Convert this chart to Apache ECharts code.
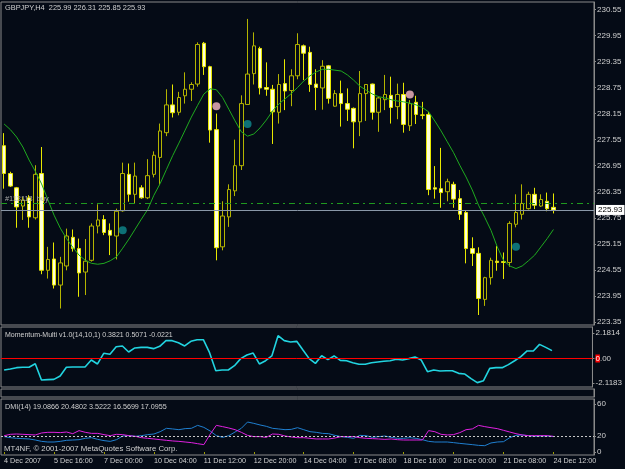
<!DOCTYPE html>
<html>
<head>
<meta charset="utf-8">
<script src="https://cdn.jsdelivr.net/npm/echarts@6/dist/echarts.min.js"></script>
<style>
  html, body { margin: 0; padding: 0; background: #050b16; }
  #main { width: 625px; height: 469px; }
</style>
</head>
<body>
<div id="main"></div>
<script>
// GBPJPY H4 bars: [open, high, low, close]
const candles = [
  [227.41,227.70,226.42,226.77],[226.77,226.81,226.46,226.48],[226.44,226.46,225.52,226.00],
  [226.02,226.23,225.70,226.16],[226.21,226.27,225.52,225.77],[225.75,226.96,225.71,226.75],
  [226.77,227.38,224.45,224.54],[224.54,225.08,224.35,224.79],[224.80,225.18,224.12,224.20],
  [224.20,224.85,223.66,224.71],[224.64,225.50,224.54,225.33],[225.30,225.48,224.97,225.04],
  [225.04,225.27,223.93,224.48],[224.50,225.26,223.97,224.75],[224.77,225.62,224.74,225.56],
  [225.56,226.06,225.39,225.70],[225.71,225.81,225.35,225.41],[225.46,225.62,224.89,225.35],
  [225.33,225.96,224.79,225.90],[225.91,227.02,225.89,226.77],[226.75,227.00,226.12,226.29],
  [226.29,227.02,226.08,226.71],[226.44,226.50,226.19,226.21],[226.21,227.10,226.18,226.72],
  [226.75,227.28,226.68,227.19],[227.14,227.92,226.50,227.75],[227.71,228.71,227.63,228.35],
  [228.35,228.82,228.06,228.17],[228.18,228.65,228.11,228.52],[228.56,229.10,228.38,228.71],
  [228.71,228.87,228.44,228.82],[228.83,229.79,228.77,229.74],[229.77,229.80,229.04,229.23],
  [229.23,229.25,227.48,227.77],[227.78,228.15,224.77,225.06],[225.08,226.13,225.00,225.79],
  [225.77,226.52,225.54,226.40],[226.37,227.55,226.25,226.95],[226.95,228.57,226.85,228.38],
  [228.36,230.33,228.36,229.06],[229.07,230.02,228.82,229.71],[229.65,229.69,228.59,228.74],
  [228.75,229.33,228.56,228.71],[228.71,228.81,227.45,228.19],[228.18,229.06,227.92,228.82],
  [228.84,229.40,228.23,228.67],[228.68,229.17,228.32,229.02],[229.02,230.00,228.94,229.74],
  [229.71,229.74,228.92,229.54],[229.56,229.69,228.65,228.82],[228.83,229.17,228.23,228.75],
  [228.74,229.38,228.24,229.24],[229.25,229.27,228.38,228.50],[228.32,228.69,228.31,228.61],
  [228.61,228.91,227.85,228.38],[228.38,228.73,227.98,228.25],[228.27,228.29,227.35,227.96],
  [227.96,229.13,227.63,228.61],[228.61,228.82,227.98,228.82],[228.83,228.84,228.01,228.18],
  [228.18,228.54,227.73,228.51],[228.47,229.04,228.23,228.59],[228.57,229.00,227.92,228.29],
  [228.31,228.84,228.02,228.59],[228.59,228.86,227.71,227.90],[227.87,228.46,227.75,228.38],
  [228.41,228.56,227.91,228.13],[228.12,228.42,228.02,228.11],[228.13,228.19,226.27,226.40],
  [226.44,226.94,226.19,226.41],[226.42,227.36,225.98,226.33],[226.35,226.65,226.13,226.58],
  [226.52,226.58,225.98,226.18],[226.19,226.39,225.70,225.83],[225.87,225.91,224.70,225.04],
  [225.04,225.30,224.64,224.93],[224.93,225.07,223.51,223.89],[223.87,224.39,223.72,224.37],
  [224.37,224.83,224.21,224.77],[224.75,225.10,224.53,224.72],[224.74,224.95,224.34,224.72],
  [224.72,225.67,224.62,225.62],[225.60,226.29,225.53,225.87],[225.83,226.52,225.71,226.08],
  [225.96,226.35,225.94,226.29],[226.29,226.44,225.95,226.04],[226.02,226.29,226.00,226.17],
  [226.13,226.33,225.90,225.96],[225.99,226.31,225.85,225.93]
]

// green moving average
const maLine = [
  227.91,227.78,227.61,227.38,227.08,226.82,226.53,226.17,225.81,225.51,
  225.27,225.07,224.89,224.77,224.70,224.68,224.70,224.76,224.85,225.05,
  225.26,225.49,225.72,225.94,226.27,226.54,226.86,227.18,227.47,227.77,
  228.07,228.34,228.60,228.72,228.70,228.52,228.25,227.98,227.73,227.63,
  227.68,227.82,228.00,228.21,228.37,228.49,228.61,228.75,228.90,229.02,
  229.11,229.17,229.17,229.15,229.13,229.04,228.92,228.78,228.69,228.60,
  228.54,228.51,228.47,228.44,228.42,228.39,228.35,228.29,228.19,227.98,
  227.75,227.50,227.25,226.96,226.69,226.39,226.04,225.76,225.46,225.08,
  224.77,224.64,224.58,224.64,224.76,224.89,225.08,225.27,225.48
]

// signal dots: [bar index, price]
const sellDots = [[34, 228.32], [65, 228.59]]
const buyDots = [[19, 225.46], [39, 227.91], [82, 225.08]]

const orderPrice = 226.09
const lastPrice = 225.93
const priceTicks = [230.55, 229.95, 229.35, 228.75, 228.15, 227.55, 226.95, 226.35, 225.75, 225.15, 224.55, 223.95, 223.35]

const momentum = [
  -0.99,-0.91,-0.79,-0.76,-0.76,-0.45,-1.85,-1.82,-1.80,-1.51,
  -0.76,-0.73,-0.73,-0.73,-0.13,-0.47,0.45,0.36,1.02,1.08,
  0.56,0.91,0.96,0.96,0.85,1.05,1.54,1.54,1.36,1.08,
  1.48,1.62,1.62,0.50,-1.05,-0.99,-0.99,-0.62,-0.01,0.30,
  0.47,-0.47,-0.19,0.22,1.97,1.54,1.42,1.48,0.73,-0.01,
  -0.42,0.24,-0.10,0.22,-0.16,-0.19,-0.36,-0.50,-0.50,-0.36,
  -0.30,-0.24,-0.19,-0.07,-0.13,-0.01,0.13,-0.13,-1.14,-0.99,
  -1.08,-1.05,-1.05,-1.28,-1.34,-1.74,-2.08,-1.91,-0.85,-0.79,
  -0.79,-0.53,-0.19,0.16,0.65,0.65,1.22,0.96,0.68
]
const momentumTicks = [2.1814, 0, -2.1183]

const dmiBlue = [
  19.2,17.9,17.1,16.7,16.3,15.0,13.3,12.5,12.5,13.3,
  14.6,15.0,15.4,17.1,17.9,15.8,14.2,13.3,15.4,20.0,
  20.4,19.6,20.4,21.7,22.5,25.4,29.6,28.8,27.9,29.2,
  29.6,33.3,30.8,26.3,20.4,18.3,20.4,25.0,29.6,37.5,
  35.8,33.8,32.1,29.6,28.8,27.9,28.3,30.4,27.9,25.4,
  24.6,23.3,22.9,20.8,19.2,18.3,17.1,20.8,20.4,18.3,
  19.2,20.0,18.3,17.1,17.1,17.9,17.1,15.4,13.3,12.5,
  12.5,12.5,11.7,10.8,10.0,9.2,8.3,7.9,11.3,12.5,
  12.9,17.9,20.8,21.3,20.4,19.6,20.0,20.0,19.2
]
const dmiMagenta = [
  20.4,22.1,22.5,22.1,21.7,21.3,23.8,24.6,24.6,24.2,
  25.0,22.9,26.7,24.6,23.3,23.3,21.7,20.4,22.1,21.7,
  20.4,19.6,17.9,17.1,16.3,15.4,14.6,13.8,13.3,12.5,
  11.7,10.4,9.2,22.1,33.3,31.7,30.0,27.9,24.6,20.8,
  19.2,19.2,18.3,22.5,22.1,20.0,18.8,17.9,17.9,17.1,
  16.3,16.3,16.3,17.5,19.2,19.2,19.2,17.9,17.1,16.7,
  16.3,15.8,16.3,15.4,15.0,15.0,15.0,15.0,26.7,25.4,
  22.1,21.3,21.7,24.2,27.9,28.8,33.3,31.7,30.4,29.2,
  27.1,25.0,22.9,21.3,20.4,20.4,20.4,20.4,19.6
]
const dmiTicks = [60, 20, 0]

// time labels, one every 8 bars
const timeLabels = ['4 Dec 2007', '5 Dec 16:00', '7 Dec 00:00', '10 Dec 04:00', '11 Dec 12:00', '12 Dec 20:00',
  '14 Dec 04:00', '17 Dec 08:00', '18 Dec 16:00', '20 Dec 00:00', '21 Dec 08:00', '24 Dec 12:00']

const slots = 95  // bars plus empty shift on the right
const categories = []
for (let i = 0; i < slots; i++) categories.push(String(i))

const bg = '#050b16'
const frame = '#8a8a8a'
const txt = '#d0d0d0'
const font = 'Liberation Sans'

let chart = echarts.init(document.getElementById('main'))

function xAxisFor(gridIndex, showLabels) {
  return {
    type: 'category', gridIndex: gridIndex, data: categories, boundaryGap: true,
    axisLine: {show: false},
    axisTick: {show: showLabels, interval: 7, alignWithLabel: true, length: 2, lineStyle: {color: '#a0a000'}},
    axisLabel: {
      show: showLabels, interval: 7, align: 'left', margin: 3, color: txt, fontSize: 7.2, fontFamily: font,
      formatter: (v, idx) => timeLabels[idx / 8] || ''
    },
    splitLine: {show: false}
  }
}

function yAxisFor(gridIndex, min, max, ticks, fmt) {
  return {
    type: 'value', gridIndex: gridIndex, position: 'right', min: min, max: max,
    axisLine: {show: true, lineStyle: {color: frame}},
    axisTick: {show: ticks.length > 0, customValues: ticks, length: 2, lineStyle: {color: frame}},
    axisLabel: {
      show: ticks.length > 0, customValues: ticks, margin: 3, color: txt, fontSize: 8, fontFamily: font,
      formatter: fmt,
      rich: {z: {backgroundColor: '#ff0000', color: '#ffffff', fontSize: 8, fontFamily: font}}
    },
    splitLine: {show: false}
  }
}

const gridStyle = {show: true, borderColor: frame, borderWidth: 1, backgroundColor: bg}

function caption(text, left, top, size) {
  return {text: text, left: left, top: top, padding: 0,
    textStyle: {color: txt, fontSize: size, fontWeight: 'normal', fontFamily: font}}
}

let option = {
  backgroundColor: bg,
  animation: false,
  title: [
    caption('GBPJPY,H4  225.99 226.31 225.85 225.93', 5, 4, 7.4),
    caption('Momentum-Multi v1.0(14,10,1) 0.3821 0.5071 -0.0221', 5, 332, 7),
    caption('DMI(14) 19.0866 20.4802 3.5222 16.5699 17.0955', 5, 404, 7.2),
    caption('MT4NF, © 2001-2007 MetaQuotes Software Corp.', 4, 445, 7.8)
  ],
  grid: [
    Object.assign({left: 1, top: 2, width: 593, height: 323}, gridStyle),
    Object.assign({left: 1, top: 327, width: 593, height: 60}, gridStyle),
    Object.assign({left: 1, top: 389, width: 593, height: 8}, gridStyle),
    Object.assign({left: 1, top: 399, width: 593, height: 56}, gridStyle)
  ],
  xAxis: [xAxisFor(0, false), xAxisFor(1, false), xAxisFor(2, false), xAxisFor(3, true)],
  yAxis: [
    yAxisFor(0, 223.28, 230.72, priceTicks, v => v.toFixed(2)),
    yAxisFor(1, -2.457, 2.716, momentumTicks, v => v === 0 ? '{z|0}.00' : v.toFixed(4)),
    yAxisFor(2, 0, 1, [], v => ''),
    yAxisFor(3, -3.75, 66.25, dmiTicks, v => String(v))
  ],
  series: [
    {
      type: 'candlestick', xAxisIndex: 0, yAxisIndex: 0, barWidth: 4,
      data: candles.map(c => [c[0], c[3], c[2], c[1]]),
      itemStyle: {color: bg, borderColor: '#b4b400', color0: '#ffffd8', borderColor0: '#e8e800', borderWidth: 1},
      markLine: {
        silent: true, symbol: 'none', animation: false,
        data: [
          {yAxis: orderPrice, lineStyle: {color: '#1f9a1f', type: [6, 4, 2, 4], width: 1},
            label: {show: true, position: 'insideStartTop', formatter: '#113113  buy', color: '#a8a8a8',
              fontSize: 7.4, fontFamily: font, distance: [4, 1]}},
          {yAxis: lastPrice, lineStyle: {color: '#8a98a8', type: 'solid', width: 1},
            label: {show: true, position: 'end', formatter: lastPrice.toFixed(2), color: '#000',
              backgroundColor: '#ffffff', padding: [1, 2], fontSize: 8, fontFamily: font, distance: 2}}
        ]
      }
    },
    {
      type: 'line', xAxisIndex: 0, yAxisIndex: 0, data: maLine, showSymbol: false, smooth: false,
      lineStyle: {color: '#1faa1f', width: 1}
    },
    {
      type: 'scatter', xAxisIndex: 0, yAxisIndex: 0, data: sellDots, symbolSize: 8,
      itemStyle: {color: '#f7b9c4'}
    },
    {
      type: 'scatter', xAxisIndex: 0, yAxisIndex: 0, data: buyDots, symbolSize: 8,
      itemStyle: {color: '#0f8a8e'}
    },
    {
      type: 'line', xAxisIndex: 1, yAxisIndex: 1, data: momentum, showSymbol: false,
      lineStyle: {color: '#22d4e0', width: 1.6},
      markLine: {
        silent: true, symbol: 'none', label: {show: false},
        data: [{yAxis: 0, lineStyle: {color: '#ff0000', type: 'solid', width: 1}}]
      }
    },
    {
      type: 'line', xAxisIndex: 3, yAxisIndex: 3, data: dmiBlue, showSymbol: false,
      lineStyle: {color: '#1f7fd0', width: 1},
      markLine: {
        silent: true, symbol: 'none', label: {show: false},
        data: [{yAxis: 20, lineStyle: {color: '#c8c8c8', type: [2, 2], width: 1}}]
      }
    },
    {
      type: 'line', xAxisIndex: 3, yAxisIndex: 3, data: dmiMagenta, showSymbol: false,
      lineStyle: {color: '#e020e0', width: 1}
    }
  ]
}

chart.setOption(option)
</script>
</body>
</html>
